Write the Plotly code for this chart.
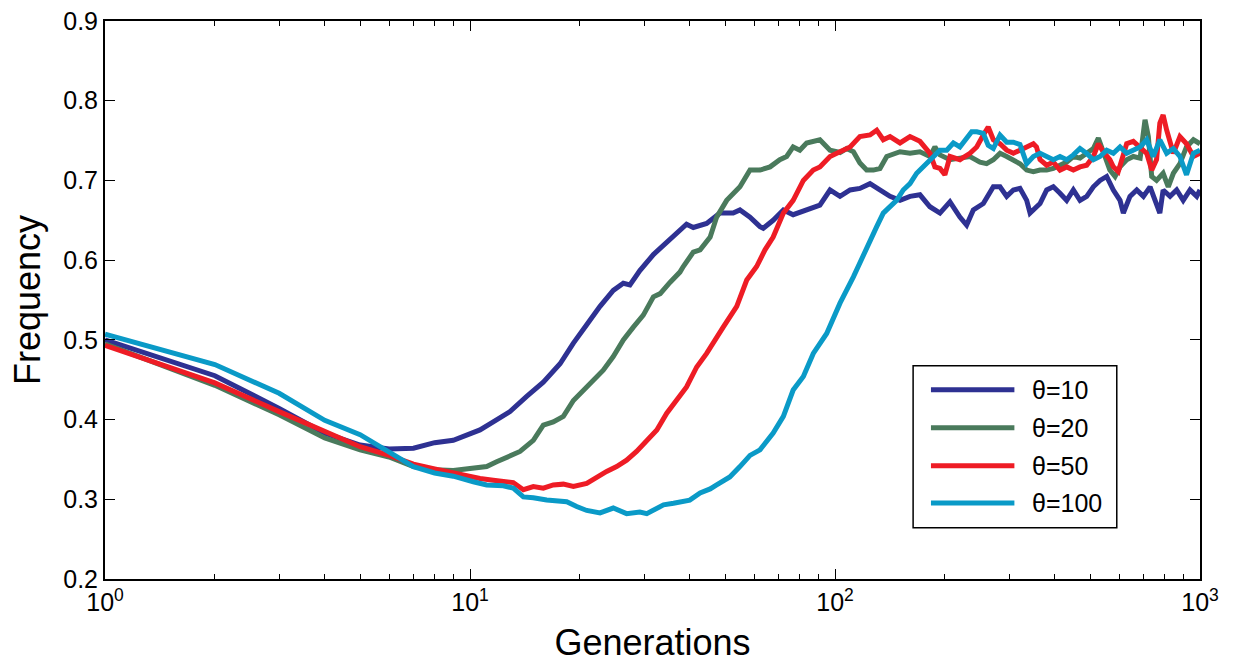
import plotly.graph_objects as go

# ---------------- data ----------------
series_names = ["θ=10", "θ=20", "θ=50", "θ=100"]
series_colors = ["#2e3192", "#4a7a5c", "#ee1c25", "#0a9ac7"]

gen_t10 = [1, 2, 3, 4, 5, 6, 7, 8, 9, 10, 10.65, 11.58, 12.87, 14.3, 15.88, 17.65, 19.2, 20.88,
           22.71, 24.69, 26.31, 27.43, 29.2, 31.8, 34.6, 37.6, 39.2, 40.9, 42.7, 44.5, 48.4, 52.6,
           54.9, 58.5, 62.3, 63.6, 67.7, 72.2, 76.8, 83.6, 90.9, 96.9, 103.2, 110.0, 117.0, 124.7,
           132.8, 141.5, 150.7, 160.5, 170.9, 182.0, 193.9, 206.5, 219.9, 229.4, 239.3, 254.9,
           271.5, 283.2, 295.4, 308.1, 321.2, 335.1, 342.3, 349.5, 364.5, 380.2, 396.4, 413.5,
           431.3, 449.8, 469.1, 489.3, 510.3, 532.2, 555.1, 578.9, 603.8, 616.6, 642.9, 671.0,
           699.8, 729.8, 760.3, 776.2, 792.5, 827.9, 863.0, 899.5, 939.0, 979.5, 1000]
freq_t10 = [0.500, 0.455, 0.414, 0.383, 0.368, 0.363, 0.364, 0.371, 0.374, 0.383, 0.387, 0.397,
            0.410, 0.429, 0.447, 0.470, 0.496, 0.519, 0.542, 0.562, 0.571, 0.569, 0.587, 0.607,
            0.623, 0.637, 0.645, 0.641, 0.644, 0.646, 0.659, 0.659, 0.663, 0.654, 0.642, 0.640,
            0.650, 0.663, 0.657, 0.663, 0.669, 0.688, 0.680, 0.688, 0.690, 0.696, 0.688, 0.680,
            0.675, 0.680, 0.682, 0.667, 0.659, 0.673, 0.654, 0.644, 0.663, 0.671, 0.692, 0.692,
            0.680, 0.688, 0.690, 0.675, 0.659, 0.663, 0.671, 0.688, 0.692, 0.684, 0.675, 0.688,
            0.675, 0.680, 0.692, 0.700, 0.705, 0.688, 0.675, 0.659, 0.680, 0.688, 0.680, 0.692,
            0.671, 0.659, 0.688, 0.680, 0.688, 0.675, 0.688, 0.680, 0.688]

gen_t20 = [1, 2, 3, 4, 5, 6, 7, 8, 9, 10.21, 11.11, 11.83, 12.61, 13.71, 14.91, 15.88, 16.91,
           18.02, 19.2, 20.43, 21.76, 23.18, 24.69, 26.31, 28.02, 29.84, 31.8, 33.2, 35.3, 37.6,
           38.4, 40.9, 42.7, 45.5, 47.4, 50.5, 54.9, 58.5, 62.3, 66.4, 70.6, 73.7, 76.8, 80.1,
           83.6, 90.9, 96.9, 103.2, 107.6, 112.3, 117.0, 122.1, 127.4, 132.8, 138.6, 150.7,
           160.5, 170.9, 182.0, 187.8, 193.9, 206.5, 219.9, 234.3, 249.6, 260.2, 271.5, 283.2,
           295.4, 308.1, 321.2, 335.1, 349.5, 364.5, 380.2, 396.4, 413.5, 431.3, 449.8, 469.1,
           489.3, 510.3, 526.6, 543.3, 566.3, 585.1, 603.8, 629.7, 656.6, 685.5, 706.9, 721.9,
           737.4, 760.3, 792.5, 818.6, 845.3, 881.0, 918.4, 959.4, 1000]
freq_t20 = [0.495, 0.443, 0.406, 0.377, 0.362, 0.353, 0.341, 0.337, 0.336, 0.339, 0.341, 0.347,
            0.353, 0.360, 0.374, 0.393, 0.397, 0.404, 0.424, 0.437, 0.450, 0.462, 0.479, 0.500,
            0.516, 0.531, 0.554, 0.558, 0.572, 0.585, 0.592, 0.610, 0.613, 0.629, 0.654, 0.675,
            0.692, 0.713, 0.713, 0.717, 0.726, 0.730, 0.742, 0.738, 0.747, 0.751, 0.738, 0.735,
            0.740, 0.736, 0.722, 0.713, 0.713, 0.715, 0.730, 0.736, 0.734, 0.736, 0.730, 0.742,
            0.732, 0.726, 0.728, 0.730, 0.723, 0.721, 0.726, 0.734, 0.730, 0.726, 0.721, 0.713,
            0.711, 0.713, 0.713, 0.715, 0.719, 0.723, 0.730, 0.728, 0.734, 0.740, 0.753, 0.736,
            0.713, 0.705, 0.717, 0.726, 0.730, 0.728, 0.776, 0.755, 0.705, 0.700, 0.709, 0.692,
            0.709, 0.721, 0.742, 0.751, 0.746]

gen_t50 = [1, 2, 3, 4, 5, 6, 7, 8, 9, 10, 10.65, 11.58, 12.34, 13.14, 14.0, 14.91, 15.88, 16.91,
           18.02, 19.2, 20.88, 22.23, 23.68, 25.22, 26.86, 28.6, 30.5, 32.5, 34.6, 36.8, 39.2,
           41.8, 44.5, 49.4, 53.8, 57.3, 61.0, 64.3, 67.7, 72.2, 76.8, 81.9, 87.2, 90.9, 96.9,
           103.2, 110.0, 117.0, 124.7, 130.1, 135.6, 141.5, 150.7, 160.5, 170.9, 182.0, 187.8,
           193.9, 200.0, 206.5, 219.9, 234.3, 244.5, 254.9, 262.9, 271.5, 283.2, 295.4, 308.1,
           321.2, 335.1, 349.5, 356.5, 364.5, 380.2, 396.4, 413.5, 431.3, 449.8, 469.1, 489.3,
           510.3, 526.6, 543.3, 566.3, 578.9, 597.0, 616.6, 629.7, 656.6, 685.5, 714.5, 737.4,
           760.3, 776.2, 792.5, 810.5, 845.3, 881.0, 918.4, 959.4, 1000]
freq_t50 = [0.493, 0.446, 0.410, 0.385, 0.366, 0.355, 0.344, 0.338, 0.333, 0.328, 0.326, 0.324,
            0.322, 0.321, 0.312, 0.316, 0.314, 0.318, 0.319, 0.316, 0.320, 0.328, 0.335, 0.341,
            0.349, 0.360, 0.374, 0.387, 0.408, 0.424, 0.441, 0.466, 0.483, 0.516, 0.542, 0.575,
            0.592, 0.613, 0.629, 0.659, 0.675, 0.700, 0.713, 0.717, 0.730, 0.736, 0.742, 0.755,
            0.757, 0.763, 0.751, 0.755, 0.747, 0.755, 0.749, 0.734, 0.717, 0.715, 0.707, 0.730,
            0.726, 0.734, 0.742, 0.757, 0.767, 0.751, 0.746, 0.738, 0.734, 0.738, 0.742, 0.746,
            0.742, 0.726, 0.719, 0.723, 0.713, 0.717, 0.713, 0.717, 0.719, 0.730, 0.746, 0.736,
            0.726, 0.717, 0.711, 0.730, 0.746, 0.749, 0.742, 0.734, 0.713, 0.726, 0.772, 0.782,
            0.763, 0.734, 0.755, 0.746, 0.730, 0.734]

gen_t100 = [1, 2, 3, 4, 5, 6, 7, 8, 9, 10.21, 11.11, 12.34, 13.14, 14.0, 14.91, 16.22, 17.65,
            18.41, 19.6, 20.88, 22.71, 24.69, 26.86, 29.2, 30.5, 31.8, 33.9, 36.1, 40.0, 42.7,
            45.5, 47.4, 51.5, 54.9, 58.5, 62.3, 67.7, 72.2, 76.8, 81.9, 87.2, 94.9, 103.2, 112.3,
            122.1, 124.7, 130.1, 135.6, 141.5, 147.5, 153.8, 160.5, 167.4, 174.6, 182.0, 187.8,
            193.9, 202.4, 211.0, 219.9, 229.4, 236.8, 244.5, 254.9, 262.9, 271.5, 283.2, 295.4,
            308.1, 321.2, 335.1, 349.5, 364.5, 380.2, 396.4, 413.5, 431.3, 449.8, 469.1, 489.3,
            510.3, 532.2, 555.1, 578.9, 603.8, 629.7, 656.6, 685.5, 714.5, 744.7, 776.2, 810.5,
            845.3, 881.0, 918.4, 959.4, 1000]
freq_t100 = [0.507, 0.469, 0.433, 0.399, 0.381, 0.360, 0.341, 0.333, 0.329, 0.322, 0.318, 0.317,
             0.314, 0.303, 0.302, 0.299, 0.297, 0.297, 0.291, 0.286, 0.283, 0.289, 0.282, 0.284,
             0.282, 0.286, 0.293, 0.295, 0.299, 0.308, 0.313, 0.318, 0.328, 0.341, 0.355, 0.362,
             0.383, 0.404, 0.437, 0.454, 0.483, 0.508, 0.546, 0.579, 0.617, 0.625, 0.642, 0.659,
             0.667, 0.675, 0.688, 0.696, 0.709, 0.717, 0.726, 0.732, 0.738, 0.738, 0.747, 0.742,
             0.753, 0.761, 0.761, 0.759, 0.744, 0.740, 0.757, 0.748, 0.748, 0.745, 0.721, 0.730,
             0.734, 0.730, 0.726, 0.730, 0.726, 0.732, 0.740, 0.734, 0.726, 0.730, 0.738, 0.734,
             0.742, 0.734, 0.738, 0.742, 0.751, 0.730, 0.751, 0.734, 0.740, 0.730, 0.707, 0.734,
             0.738]

x_major_ticks = [1, 10, 100, 1000]
x_major_labels = ["10<sup>0</sup>", "10<sup>1</sup>", "10<sup>2</sup>", "10<sup>3</sup>"]
x_minor_ticks = [m * d for d in (1, 10, 100) for m in range(2, 10)]

all_gens = [gen_t10, gen_t20, gen_t50, gen_t100]
all_freqs = [freq_t10, freq_t20, freq_t50, freq_t100]

FONT = "Liberation Sans, Arial, Helvetica, sans-serif"
TICK_SIZE = 25
TITLE_SIZE = 36

fig = go.Figure()
for name, color, xs, ys in zip(series_names, series_colors, all_gens, all_freqs):
    fig.add_trace(go.Scatter(x=xs, y=ys, mode="lines", name=name,
                             line=dict(color=color, width=5)))

# Custom legend box (MATLAB-style long line samples)
leg_x0, leg_x1, leg_y0, leg_y1 = 0.738, 0.924, 0.092, 0.382
row_y = [0.339, 0.271, 0.203, 0.136]
fig.add_shape(type="rect", xref="paper", yref="paper", x0=leg_x0, x1=leg_x1, y0=leg_y0, y1=leg_y1,
              line=dict(color="black", width=1.5), fillcolor="white", layer="above")
for name, color, ry in zip(series_names, series_colors, row_y):
    fig.add_shape(type="line", xref="paper", yref="paper", x0=0.7543, x1=0.8305, y0=ry, y1=ry,
                  line=dict(color=color, width=5), layer="above")
    fig.add_annotation(xref="paper", yref="paper", x=0.8445, y=ry, text=name, showarrow=False,
                       xanchor="left", yanchor="middle",
                       font=dict(family=FONT, size=TICK_SIZE, color="black"))

fig.update_layout(
    width=1238, height=663,
    margin=dict(l=105, r=38, t=21, b=84, autoexpand=False),
    paper_bgcolor="white", plot_bgcolor="white",
    showlegend=False,
    font=dict(family=FONT, size=TICK_SIZE, color="black"),
)
fig.update_xaxes(
    type="log", range=[0, 3], automargin=False,
    tickmode="array", tickvals=x_major_ticks, ticktext=x_major_labels,
    ticks="inside", ticklen=10, tickwidth=1.3, tickcolor="black",
    minor=dict(tickmode="array", tickvals=x_minor_ticks, ticks="inside", ticklen=5,
               tickwidth=1.2, tickcolor="black", showgrid=False),
    showline=True, linecolor="black", linewidth=2, mirror="ticks",
    showgrid=False, zeroline=False,
    tickfont=dict(family=FONT, size=TICK_SIZE, color="black"),
    title=dict(text="Generations", font=dict(family=FONT, size=TITLE_SIZE, color="black"), standoff=16),
)
fig.update_yaxes(
    range=[0.2, 0.9], dtick=0.1, tick0=0.2, tickformat=".1f", automargin=False,
    ticks="inside", ticklen=10, tickwidth=1.3, tickcolor="black",
    showline=True, linecolor="black", linewidth=2, mirror="ticks",
    showgrid=False, zeroline=False,
    tickfont=dict(family=FONT, size=TICK_SIZE, color="black"),
    title=dict(text="Frequency", font=dict(family=FONT, size=TITLE_SIZE, color="black"), standoff=12),
)

fig.write_html("out.html")
